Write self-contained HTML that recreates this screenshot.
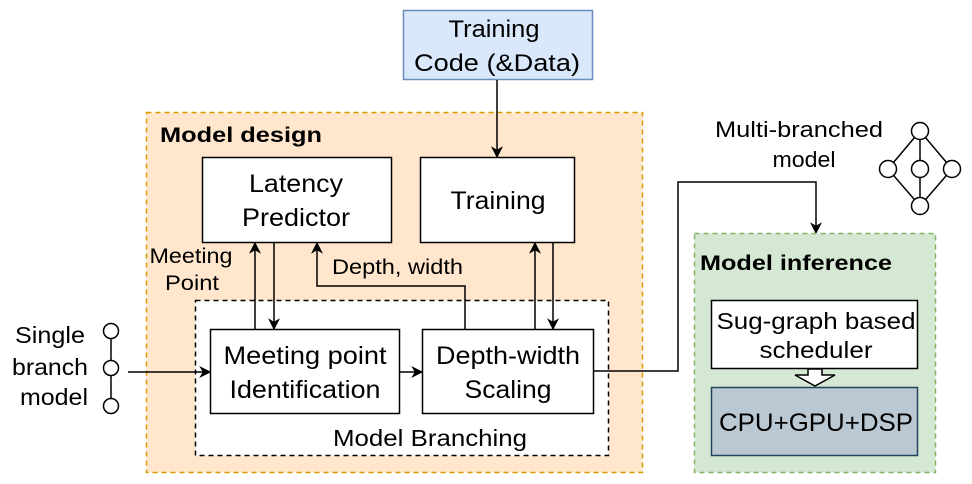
<!DOCTYPE html>
<html><head><meta charset="utf-8"><style>
html,body{margin:0;padding:0;background:#fff;}
svg text{font-family:"Liberation Sans",Arial,sans-serif;fill:#000;}
</style></head><body>
<svg width="972" height="479" viewBox="0 0 972 479" xmlns="http://www.w3.org/2000/svg">
<defs>
<marker id="b" viewBox="0 0 10 10" refX="9" refY="5" markerWidth="12" markerHeight="12" orient="auto" markerUnits="userSpaceOnUse"><path d="M0,0 L10,5 L0,10 L3,5 z" fill="#000"/></marker>
</defs>
<g lengthAdjust="spacingAndGlyphs">
<!-- Training code -->
<rect x="403.5" y="10.5" width="189" height="69" fill="#dae8fc" stroke="#6c8ebf" stroke-width="1.5"/>
<text x="494" y="37" font-size="24" text-anchor="middle" textLength="91" lengthAdjust="spacingAndGlyphs">Training</text>
<text x="497" y="71" font-size="24" text-anchor="middle" textLength="166" lengthAdjust="spacingAndGlyphs">Code (&amp;Data)</text>
<!-- Model design -->
<rect x="146.5" y="112.5" width="496" height="360" fill="#ffe6cc" stroke="#d79b00" stroke-width="1.5" stroke-dasharray="5,4"/>
<text x="160" y="142" font-size="21" font-weight="bold" textLength="162" lengthAdjust="spacingAndGlyphs">Model design</text>
<line x1="497" y1="80" x2="497" y2="157" stroke="#000" stroke-width="1.5" marker-end="url(#b)"/>
<rect x="202.5" y="157.5" width="189" height="85" fill="#fff" stroke="#000" stroke-width="1.5"/>
<text x="296" y="192" font-size="25" text-anchor="middle" textLength="94" lengthAdjust="spacingAndGlyphs">Latency</text>
<text x="296" y="226" font-size="25" text-anchor="middle" textLength="108" lengthAdjust="spacingAndGlyphs">Predictor</text>
<rect x="420.5" y="157.5" width="154" height="85" fill="#fff" stroke="#000" stroke-width="1.5"/>
<text x="498" y="209" font-size="25" text-anchor="middle" textLength="95" lengthAdjust="spacingAndGlyphs">Training</text>
<!-- Branching dashed -->
<rect x="195.5" y="300.5" width="413" height="155" fill="#fff" stroke="#000" stroke-width="1.5" stroke-dasharray="5,4"/>
<text x="430" y="446" font-size="23" text-anchor="middle" textLength="194" lengthAdjust="spacingAndGlyphs">Model Branching</text>
<rect x="210.5" y="329.5" width="189" height="84" fill="#fff" stroke="#000" stroke-width="1.5"/>
<text x="305" y="364" font-size="25" text-anchor="middle" textLength="163" lengthAdjust="spacingAndGlyphs">Meeting point</text>
<text x="305" y="398" font-size="25" text-anchor="middle" textLength="151" lengthAdjust="spacingAndGlyphs">Identification</text>
<rect x="422.5" y="329.5" width="171" height="84" fill="#fff" stroke="#000" stroke-width="1.5"/>
<text x="508" y="364" font-size="25" text-anchor="middle" textLength="144" lengthAdjust="spacingAndGlyphs">Depth-width</text>
<text x="508" y="398" font-size="25" text-anchor="middle" textLength="87" lengthAdjust="spacingAndGlyphs">Scaling</text>
<!-- arrows -->
<line x1="255" y1="329" x2="255" y2="243" stroke="#000" stroke-width="1.5" marker-end="url(#b)"/>
<line x1="274" y1="243" x2="274" y2="329" stroke="#000" stroke-width="1.5" marker-end="url(#b)"/>
<polyline points="465,329 465,286 317,286 317,243" fill="none" stroke="#000" stroke-width="1.5" marker-end="url(#b)"/>
<line x1="535" y1="329" x2="535" y2="243" stroke="#000" stroke-width="1.5" marker-end="url(#b)"/>
<line x1="553" y1="243" x2="553" y2="329" stroke="#000" stroke-width="1.5" marker-end="url(#b)"/>
<line x1="400" y1="372" x2="422" y2="372" stroke="#000" stroke-width="1.5" marker-end="url(#b)"/>
<line x1="128" y1="372" x2="210" y2="372" stroke="#000" stroke-width="1.5" marker-end="url(#b)"/>
<polyline points="594,371 678,371 678,182 816,182 816,233" fill="none" stroke="#000" stroke-width="1.5" marker-end="url(#b)"/>
<text x="191" y="263" font-size="21" text-anchor="middle" textLength="83" lengthAdjust="spacingAndGlyphs">Meeting</text>
<text x="192" y="290" font-size="21" text-anchor="middle" textLength="54" lengthAdjust="spacingAndGlyphs">Point</text>
<text x="332" y="274" font-size="21" textLength="131" lengthAdjust="spacingAndGlyphs">Depth, width</text>
<!-- single branch -->
<text x="50" y="343" font-size="23" text-anchor="middle" textLength="70" lengthAdjust="spacingAndGlyphs">Single</text>
<text x="50" y="375" font-size="23" text-anchor="middle" textLength="76" lengthAdjust="spacingAndGlyphs">branch</text>
<text x="54" y="405" font-size="23" text-anchor="middle" textLength="68" lengthAdjust="spacingAndGlyphs">model</text>
<line x1="111" y1="331" x2="111" y2="406" stroke="#000" stroke-width="1.5"/>
<circle cx="111" cy="331" r="7.5" fill="#fff" stroke="#000" stroke-width="1.5"/>
<circle cx="111" cy="368" r="7.5" fill="#fff" stroke="#000" stroke-width="1.5"/>
<circle cx="111" cy="406" r="7.5" fill="#fff" stroke="#000" stroke-width="1.5"/>
<!-- multi -->
<text x="799" y="137" font-size="22" text-anchor="middle" textLength="168" lengthAdjust="spacingAndGlyphs">Multi-branched</text>
<text x="804" y="167" font-size="22" text-anchor="middle" textLength="63" lengthAdjust="spacingAndGlyphs">model</text>
<g stroke="#000" stroke-width="1.5" fill="#fff">
<polyline points="920,131 888,169 920,206 952,169 920,131 920,206" fill="none"/>
<circle cx="920" cy="131" r="8.5"/><circle cx="888" cy="169" r="8.5"/><circle cx="920" cy="169" r="8.5"/><circle cx="952" cy="169" r="8.5"/><circle cx="920" cy="206" r="8.5"/>
</g>
<!-- inference -->
<rect x="694.5" y="233.5" width="241" height="239" fill="#d5e8d4" stroke="#82b366" stroke-width="1.5" stroke-dasharray="5,4"/>
<text x="700" y="270" font-size="21" font-weight="bold" textLength="192" lengthAdjust="spacingAndGlyphs">Model inference</text>
<rect x="711.5" y="300.5" width="206" height="68" fill="#fff" stroke="#000" stroke-width="1.5"/>
<text x="816" y="329" font-size="23" text-anchor="middle" textLength="199" lengthAdjust="spacingAndGlyphs">Sug-graph based</text>
<text x="816" y="358" font-size="23" text-anchor="middle" textLength="113" lengthAdjust="spacingAndGlyphs">scheduler</text>
<path d="M808,369 L822,369 L822,375 L835,375 L815,386 L795,375 L808,375 Z" fill="#fff" stroke="#000" stroke-width="1.5"/>
<rect x="711.5" y="387.5" width="206" height="68" fill="#bac8d3" stroke="#23445d" stroke-width="1.5"/>
<text x="816" y="431" font-size="25" text-anchor="middle" textLength="194" lengthAdjust="spacingAndGlyphs">CPU+GPU+DSP</text>
</g>
</svg>
</body></html>
